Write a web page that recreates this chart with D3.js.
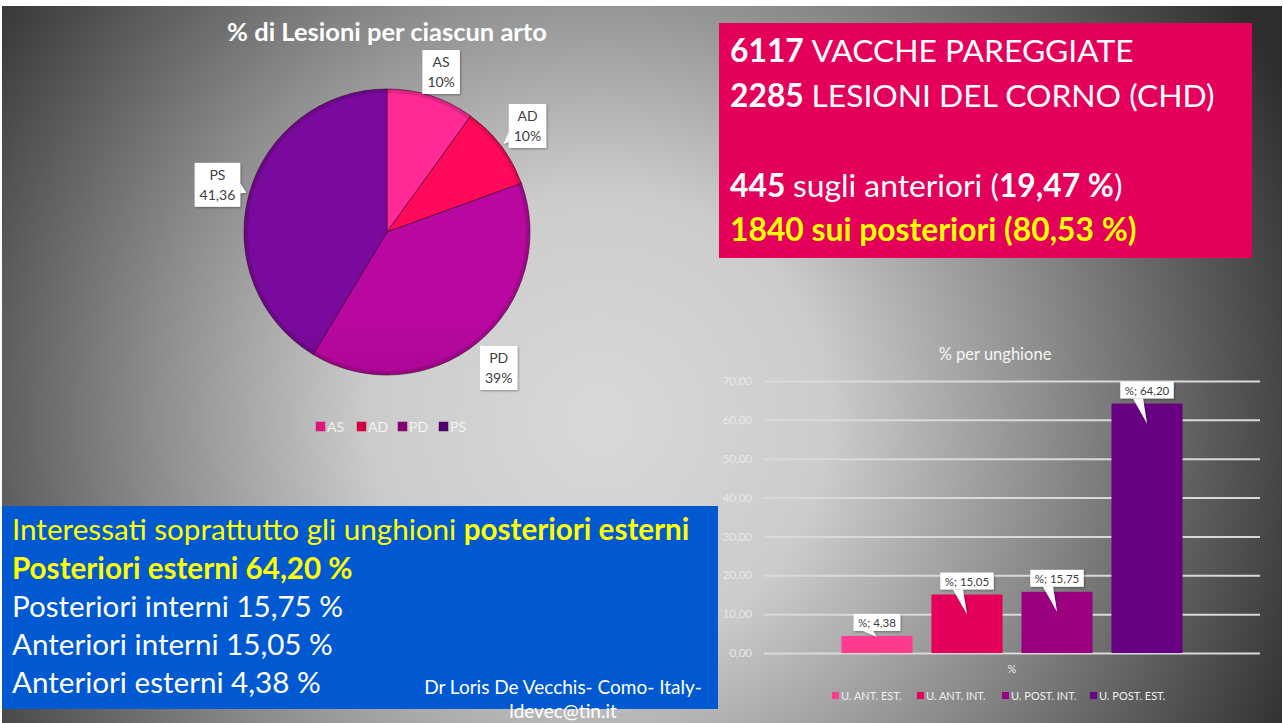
<!DOCTYPE html>
<html>
<head>
<meta charset="utf-8">
<script src="https://cdn.jsdelivr.net/npm/d3@7"></script>
<style>
  body { margin:0; background:#fff; }
  svg { display:block; font-family: Lato, "Open Sans", sans-serif; }
</style>
</head>
<body>
<div id="slide"></div>
<script>
// pie: % of lesions per limb
const PIE_CATS   = ["AS","AD","PD","PS"];
const PIE_VALUES = [9.95, 9.52, 39.17, 41.36];
const PIE_LABELS = ["10%","10%","39%","41,36"];
// bars: % per claw
const BAR_CATS   = ["U. ANT. EST.","U. ANT. INT.","U. POST. INT.","U. POST. EST."];
const BAR_VALUES = [4.38, 15.05, 15.75, 64.20];
const BAR_GROUP  = ["%"];
const Y_TICKS    = [0,10,20,30,40,50,60,70];

const pieColors = {
  AS:["#ff2a96","#de167a"], AD:["#ff0a5a","#d20040"],
  PD:["#b8089f","#860070"], PS:["#7a0a9e","#4e006c"]
};
const barColors = ["#ff3b8d","#e4005a","#9b0080","#680082"];

const it = d3.formatLocale({decimal:",", thousands:".", grouping:[3], currency:["€",""]});
const f2 = it.format(".2f");

const W = 1283, H = 723;
const svg = d3.select("#slide").append("svg").attr("width",W).attr("height",H);
const defs = svg.append("defs");

// slide background
const bg = defs.append("radialGradient").attr("id","bg").attr("gradientUnits","userSpaceOnUse")
  .attr("cx",600).attr("cy",420).attr("r",760);
[[0,"#d9d9d9"],[0.3,"#cccccc"],[0.6,"#8a8a8a"],[1,"#2e2e2e"]].forEach(s =>
  bg.append("stop").attr("offset",s[0]).attr("stop-color",s[1]));
svg.append("rect").attr("x",2).attr("y",6).attr("width",W-3).attr("height",H-6).attr("fill","url(#bg)");

const shadow = defs.append("filter").attr("id","sh").attr("x","-20%").attr("y","-20%").attr("width","140%").attr("height","140%");
shadow.append("feDropShadow").attr("dx",1).attr("dy",1).attr("stdDeviation",1).attr("flood-opacity",0.35);

// ---------- PIE ----------
const cx = 387, cy = 232, R = 143;
PIE_CATS.forEach(c => {
  const g = defs.append("linearGradient").attr("id","pg-"+c).attr("gradientUnits","userSpaceOnUse")
    .attr("x1",0).attr("y1",cy-R).attr("x2",0).attr("y2",cy+R);
  g.append("stop").attr("offset",0).attr("stop-color",pieColors[c][0]);
  g.append("stop").attr("offset",1).attr("stop-color",pieColors[c][1]);
});

svg.append("text").attr("x",cx).attr("y",41).attr("text-anchor","middle")
  .attr("fill","#fff").attr("font-weight","bold").attr("font-size",25.5)
  .text("% di Lesioni per ciascun arto");

const pieData = d3.pie().sort(null).value(d => d.v)(PIE_CATS.map((c,i) => ({c, v:PIE_VALUES[i], label:PIE_LABELS[i]})));
const arc = d3.arc().innerRadius(0).outerRadius(R);
const gp = svg.append("g").attr("transform",`translate(${cx},${cy})`);

gp.selectAll("path.slice").data(pieData).enter().append("path").attr("class","slice")
  .attr("d",arc).attr("fill",d => `url(#pg-${d.data.c})`)
  .attr("stroke","rgba(60,0,40,0.6)").attr("stroke-width",1);
// soft bevel rim
gp.selectAll("path.rim").data(pieData).enter().append("path").attr("class","rim")
  .attr("d", d3.arc().innerRadius(R-4).outerRadius(R))
  .attr("fill","rgba(0,0,0,0.12)");

// callout labels
const labArc = d3.arc().innerRadius(176).outerRadius(176);
const tipArc = d3.arc().innerRadius(146).outerRadius(146);
const bh = 44, minTop = 50;   // keep boxes clear of the title
pieData.forEach(d => {
  let [lx,ly] = labArc.centroid(d);
  const [tx,ty] = tipArc.centroid(d);
  ly = Math.max(ly, minTop + bh/2 - cy);
  const g = svg.append("g");
  const back = g.append("g").attr("filter","url(#sh)");
  const t1 = g.append("text").attr("x",cx+lx).attr("y",cy+ly-5).attr("text-anchor","middle")
    .attr("font-size",14).attr("fill","#404040").text(d.data.c);
  const t2 = g.append("text").attr("x",cx+lx).attr("y",cy+ly+15).attr("text-anchor","middle")
    .attr("font-size",14).attr("fill","#404040").text(d.data.label);
  const bw = Math.max(t1.node().getComputedTextLength(), t2.node().getComputedTextLength()) + 10;
  const x0 = cx+lx-bw/2, y0 = cy+ly-bh/2;
  // base of the pointer on the box side facing the tip
  const ddx = tx-lx, ddy = ty-ly;
  const sx = Math.abs(ddx)/(bw/2), sy = Math.abs(ddy)/(bh/2);
  const k = 1/Math.max(sx,sy);
  const ex = cx+lx+ddx*k, ey = cy+ly+ddy*k;
  let base;
  if (sy >= sx) base = [[Math.max(x0+2,ex-6),ey],[Math.min(x0+bw-2,ex+4),ey]];
  else base = [[ex,Math.max(y0+2,ey-8)],[ex,Math.min(y0+bh-2,ey+2)]];
  back.append("path").attr("d",`M${base[0]}L${cx+tx},${cy+ty}L${base[1]}Z`).attr("fill","#fff");
  back.append("rect").attr("x",x0).attr("y",y0).attr("width",bw).attr("height",bh).attr("fill","#fff");
});

// pie legend
const legX = d3.scalePoint().domain(PIE_CATS).range([316,439]);
PIE_CATS.forEach(c => {
  const x = legX(c);
  svg.append("rect").attr("x",x).attr("y",422).attr("width",9).attr("height",9)
    .attr("fill",`url(#pg-${c})`).attr("stroke",pieColors[c][1]).attr("stroke-width",0.5);
  svg.append("text").attr("x",x+11).attr("y",432).attr("font-size",14).attr("fill","#f4f4f4").text(c);
});

// ---------- PINK BOX ----------
svg.append("rect").attr("x",719).attr("y",23).attr("width",533).attr("height",235).attr("fill","#e4005a");
const pinkLines = [
  {y:62,  parts:[["6117 ",true,"#fff"],["VACCHE PAREGGIATE",false,"#fff"]]},
  {y:107, parts:[["2285 ",true,"#fff"],["LESIONI DEL CORNO (CHD)",false,"#fff"]]},
  {y:197, parts:[["445 ",true,"#fff"],["sugli anteriori (",false,"#fff"],["19,47 %",true,"#fff"],[")",false,"#fff"]]},
  {y:241, parts:[["1840 sui posteriori (80,53 %)",true,"#ffff00"]]}
];
pinkLines.forEach(l => {
  const t = svg.append("text").attr("x",730).attr("y",l.y).attr("font-size",31.8);
  l.parts.forEach(p => t.append("tspan").attr("font-weight",p[1]?"bold":"normal").attr("fill",p[2]).text(p[0]));
});

// ---------- BLUE BOX ----------
svg.append("rect").attr("x",2).attr("y",506).attr("width",716).attr("height",203).attr("fill","#0059d1");
const blueLines = [
  {y:540, parts:[["Interessati soprattutto gli unghioni ",false,"#ffff00"],["posteriori esterni",true,"#ffff00"]]},
  {y:579, parts:[["Posteriori esterni 64,20 %",true,"#ffff00"]]},
  {y:617, parts:[["Posteriori interni 15,75 %",false,"#fff"]]},
  {y:655, parts:[["Anteriori interni 15,05 %",false,"#fff"]]},
  {y:693, parts:[["Anteriori esterni 4,38 %",false,"#fff"]]}
];
blueLines.forEach(l => {
  const t = svg.append("text").attr("x",12).attr("y",l.y).attr("font-size",29.6);
  l.parts.forEach(p => t.append("tspan").attr("font-weight",p[1]?"bold":"normal").attr("fill",p[2]).text(p[0]));
});
svg.append("text").attr("x",563).attr("y",694).attr("text-anchor","middle").attr("font-size",19)
  .attr("fill","#fff").text("Dr Loris De Vecchis- Como- Italy-");
svg.append("text").attr("x",563).attr("y",718).attr("text-anchor","middle").attr("font-size",19)
  .attr("fill","#fff").text("ldevec@tin.it");

// ---------- BAR CHART ----------
const plot = {left:764, right:1260, top:381, bottom:653};
const y = d3.scaleLinear().domain([0,70]).range([plot.bottom, plot.top]);
const x0 = d3.scaleBand().domain(BAR_GROUP).range([plot.left, plot.right]).paddingInner(0).paddingOuter(0.227);
const x1 = d3.scaleBand().domain(BAR_CATS).range([0, x0.bandwidth()]).paddingInner(0.21).paddingOuter(0);

svg.append("text").attr("x",995).attr("y",360).attr("text-anchor","middle").attr("font-size",16.5)
  .attr("fill","#f6f6f6").text("% per unghione");

const gy = svg.append("g").attr("transform",`translate(${plot.left},0)`)
  .call(d3.axisLeft(y).tickValues(Y_TICKS).tickFormat(f2).tickSize(-(plot.right-plot.left)).tickPadding(12));
gy.select(".domain").remove();
gy.selectAll(".tick line").attr("stroke","#d9d9d9").attr("stroke-width",2);
gy.selectAll(".tick text").attr("fill","#e8e8e8").attr("font-size",11.5).attr("font-family","Lato, sans-serif");

const gb = svg.append("g");
const barData = BAR_CATS.map((c,i) => ({c, v:BAR_VALUES[i], col:barColors[i]}));
gb.selectAll("rect").data(barData).enter().append("rect")
  .attr("x",d => x0("%")+x1(d.c)).attr("y",d => y(d.v))
  .attr("width",x1.bandwidth()).attr("height",d => y(0)-y(d.v)).attr("fill",d => d.col);

// callouts on bars
barData.forEach(d => {
  const bx = x0("%")+x1(d.c)+x1.bandwidth()/2;
  const top = y(d.v);
  const g = svg.append("g");
  const back = g.append("g").attr("filter","url(#sh)");
  const t = g.append("text").attr("x",bx).attr("y",top-9).attr("text-anchor","middle")
    .attr("font-size",11.5).attr("fill","#404040").text("%; " + f2(d.v));
  const w = t.node().getComputedTextLength()+9;
  const tipY = (y(0)-top) > 30 ? top+20 : top+1;
  back.append("path").attr("d",`M${bx-14},${top-5}L${bx},${tipY}L${bx-4},${top-5}Z`).attr("fill","#fff");
  back.append("rect").attr("x",bx-w/2).attr("y",top-22).attr("width",w).attr("height",17).attr("fill","#fff");
});

svg.append("text").attr("x",x0("%")+x0.bandwidth()/2).attr("y",673).attr("text-anchor","middle")
  .attr("font-size",11).attr("fill","#eeeeee").text(BAR_GROUP[0]);

// bar legend
const legStarts = [832,917,1002,1090];
barData.forEach((d,i) => {
  svg.append("rect").attr("x",legStarts[i]).attr("y",692).attr("width",7).attr("height",7).attr("fill",d.col);
  svg.append("text").attr("x",legStarts[i]+9).attr("y",700).attr("font-size",11).attr("fill","#eeeeee").text(d.c);
});
</script>
</body>
</html>
